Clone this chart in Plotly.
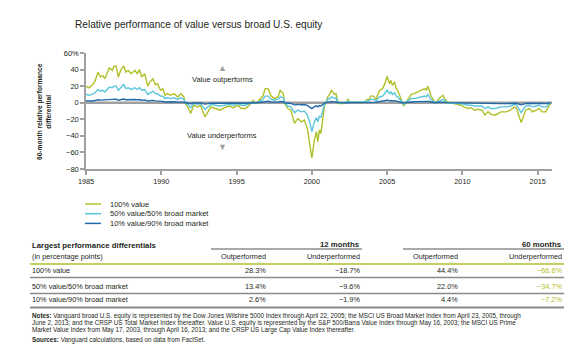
import plotly.graph_objects as go

# ---------------- data ----------------
years = [
    1985.0, 1985.2, 1985.4, 1985.6, 1985.8, 1985.95, 1986.1, 1986.25, 1986.55, 1986.75,
    1986.85, 1987.0, 1987.15, 1987.3, 1987.5, 1987.65, 1987.8, 1988.0, 1988.25, 1988.4,
    1988.55, 1988.7, 1988.9, 1989.1, 1989.25, 1989.45, 1989.6, 1989.75, 1989.95, 1990.1,
    1990.25, 1990.4, 1990.6, 1990.85, 1991.1, 1991.3, 1991.5, 1991.6, 1991.8, 1991.95,
    1992.15, 1992.4, 1992.6, 1992.9, 1993.1, 1993.3, 1993.6, 1993.9, 1994.2, 1994.5,
    1994.8, 1995.1, 1995.3, 1995.6, 1995.85, 1996.1, 1996.3, 1996.5, 1996.75, 1996.9,
    1997.1, 1997.3, 1997.5, 1997.75, 1997.9, 1998.1, 1998.2, 1998.4, 1998.6, 1998.85,
    1999.07, 1999.3, 1999.5, 1999.7, 1999.85, 2000.0, 2000.15, 2000.3, 2000.4, 2000.5,
    2000.6, 2000.75, 2000.85, 2000.95, 2001.06, 2001.2, 2001.3, 2001.5, 2001.6, 2001.7,
    2001.83, 2002.05, 2002.27, 2002.4, 2002.5, 2002.8, 2003.15, 2003.5, 2003.7, 2003.8,
    2003.9, 2004.1, 2004.25, 2004.5, 2004.7, 2004.85, 2005.0, 2005.15, 2005.25, 2005.35,
    2005.5, 2005.6, 2005.7, 2005.9, 2006.0, 2006.1, 2006.2, 2006.4, 2006.6, 2006.8,
    2007.0, 2007.25, 2007.5, 2007.6, 2007.7, 2007.8, 2007.9, 2008.1, 2008.25, 2008.45,
    2008.7, 2008.85, 2009.0, 2009.25, 2009.5, 2009.7, 2009.9, 2010.1, 2010.4, 2010.6,
    2010.8, 2011.0, 2011.3, 2011.5, 2011.7, 2011.9, 2012.2, 2012.55, 2012.9, 2013.2,
    2013.45, 2013.6, 2013.8, 2013.9, 2014.05, 2014.2, 2014.45, 2014.65, 2014.9, 2015.1,
    2015.3, 2015.55, 2015.7, 2015.85,
]

value_100 = [
    20, 18, 21, 26, 37, 31, 33, 29, 42, 39,
    44, 44, 31, 39, 44.4, 37, 39, 35, 39, 35,
    40, 31, 35, 20, 25, 29, 22, 23, 15, 17,
    9, 11, 9, 11, 7, 11, 7, -1, -7, -13,
    -3, -5, -3, -17, -11, -5, -7, -9, -6, -4,
    -6, -3, -7, -7, -3, 3, -1, 3, 8, 17,
    17, 8, 5, 7, 15, 11, -1, -7, -9, -25,
    -19, -23, -21, -31, -47, -66.6, -47, -35, -47, -33,
    -37, -15, -3, 1, 7, 11, 15, 10, 11, 3,
    -1, -1, 0, 4, 1, 1, 1, 1, 4, 3,
    8, 8, 4, 15, 17, 23, 32, 23, 27, 21,
    25, 17, 15, 5, -1, -4, -1, 5, 10, 11,
    13, 15, 17, 15, 20, 15, 9, 2, 0, 5,
    9, 4, 1, 0, -1, -2, -3, -5, -7, -6,
    -9, -8, -9, -15, -11, -14, -15, -11, -11, -9,
    -5, -7, -19, -24, -17, -9, -7, -11, -9, -7,
    -11, -11, -5, -1,
]

value_50 = [
    10, 9, 10, 12, 16, 14, 15, 13, 19, 18,
    20, 20, 15, 18, 22, 17, 18, 16, 18, 16,
    18, 15, 16, 10, 12, 14, 11, 11, 8, 8,
    5, 6, 5, 6, 4, 6, 4, 0, -3, -6,
    -1, -2, -1, -8, -5, -2, -3, -4, -3, -2,
    -3, -1, -3, -3, -1, 1, 0, 1, 4, 8,
    8, 4, 3, 4, 7, 6, 0, -4, -5, -12,
    -9, -11, -10, -15, -23, -34.7, -24, -18, -23, -16,
    -18, -7, -1, 1, 4, 5, 7, 5, 6, 2,
    0, 0, 0, 2, 1, 1, 1, 1, 2, 2,
    4, 4, 2, 7, 8, 11, 15, 11, 13, 10,
    12, 8, 7, 3, 0, -2, 0, 3, 5, 5,
    6, 7, 8, 7, 10, 7, 4, 1, 0, 2,
    4, 2, 0, 0, -1, -1, -1, -2, -3, -3,
    -4, -4, -4, -7, -5, -7, -7, -5, -5, -4,
    -2, -3, -9, -12, -8, -4, -3, -5, -4, -3,
    -5, -5, -2, 0,
]

value_10 = [
    2.0, 1.8, 2.1, 2.6, 3.6, 3.1, 3.3, 2.9, 4.1, 3.8,
    4.3, 4.3, 3.1, 3.8, 4.4, 3.6, 3.8, 3.4, 3.8, 3.4,
    3.9, 3.0, 3.4, 2.0, 2.4, 2.8, 2.2, 2.2, 1.5, 1.6,
    0.9, 1.1, 0.9, 1.1, 0.7, 1.1, 0.7, -0.1, -0.7, -1.3,
    -0.3, -0.5, -0.3, -1.7, -1.1, -0.5, -0.7, -0.9, -0.6, -0.4,
    -0.6, -0.3, -0.7, -0.7, -0.3, 0.3, -0.1, 0.3, 0.8, 1.7,
    1.7, 0.8, 0.5, 0.7, 1.5, 1.1, -0.1, -0.7, -0.9, -2.6,
    -2.0, -2.4, -2.2, -3.3, -5.0, -7.2, -5.1, -3.8, -5.0, -3.5,
    -3.9, -1.6, -0.3, 0.1, 0.7, 1.1, 1.5, 1.0, 1.1, 0.3,
    -0.1, -0.1, 0.0, 0.4, 0.1, 0.1, 0.1, 0.1, 0.4, 0.3,
    0.8, 0.8, 0.4, 1.5, 1.7, 2.3, 3.2, 2.3, 2.7, 2.1,
    2.5, 1.7, 1.5, 0.5, -0.1, -0.4, -0.1, 0.5, 1.0, 1.1,
    1.3, 1.5, 1.7, 1.5, 2.0, 1.5, 0.9, 0.2, 0.0, 0.5,
    0.9, 0.4, 0.1, 0.0, -0.1, -0.2, -0.3, -0.5, -0.7, -0.6,
    -0.9, -0.8, -0.9, -1.5, -1.1, -1.4, -1.5, -1.1, -1.1, -0.9,
    -0.5, -0.7, -1.9, -2.5, -1.7, -0.9, -0.7, -1.1, -0.9, -0.7,
    -1.1, -1.1, -0.5, -0.1,
]

series_names = ["100% value", "50% value/50% broad market", "10% value/90% broad market"]
x_ticks = [1985, 1990, 1995, 2000, 2005, 2010, 2015]
y_ticks = [60, 40, 20, 0, -20, -40, -60, -80]
y_tick_labels = ["60%", "40", "20", "0", "\u221220", "\u221240", "\u221260", "\u221280"]

table_rows = ["100% value", "50% value/50% broad market", "10% value/90% broad market"]
out_12 = ["28.3%", "13.4%", "2.6%"]
under_12 = ["\u221218.7%", "\u22129.6%", "\u22121.9%"]
out_60 = ["44.4%", "22.0%", "4.4%"]
under_60 = ["\u221266.6%", "\u221234.7%", "\u22127.2%"]

notes_lines = [
    "<b>Notes:</b> Vanguard broad U.S. equity is represented by the Dow Jones Wilshire 5000 Index through April 22, 2005; the MSCI US Broad Market Index from April 23, 2005, through",
    "June 2, 2013; and the CRSP US Total Market Index thereafter. Value U.S. equity is represented by the S&P 500/Barra Value Index through May 16, 2003; the MSCI US Prime",
    "Market Value Index from May 17, 2003, through April 16, 2013; and the CRSP US Large Cap Value Index thereafter.",
]
sources_line = "<b>Sources:</b> Vanguard calculations, based on data from FactSet."

# ---------------- style ----------------
GREEN = "#b2bf2a"
CYAN = "#5cc6dc"
BLUE = "#1f69a8"
GRAY = "#a0a0a0"
TXT = "#231f20"
FONT = "Liberation Sans, Arial, sans-serif"

W, H = 573, 356
L, R, T, B = 78, 544, 45, 161


def px(x):
    return (x - L) / (R - L)


def py(y):
    return (B - y) / (B - T)


fig = go.Figure()

for vals, col, name in [(value_100, GREEN, series_names[0]),
                        (value_50, CYAN, series_names[1]),
                        (value_10, BLUE, series_names[2])]:
    fig.add_trace(go.Scatter(x=years, y=vals, mode="lines", name=name,
                             line=dict(color=col, width=1.4), showlegend=False,
                             hoverinfo="skip"))

shapes = []
ann = []


def note(x, y, text, size=7.3, color=TXT, family=FONT, xanchor="left", **kw):
    d = dict(x=px(x), y=py(y), xref="paper", yref="paper", text=text, showarrow=False,
             xanchor=xanchor, yanchor="middle",
             font=dict(family=family, size=size, color=color))
    d.update(kw)
    ann.append(d)


def hline(x0, x1, y, color, width):
    shapes.append(dict(type="line", xref="paper", yref="paper", x0=px(x0), x1=px(x1),
                       y0=py(y), y1=py(y), line=dict(color=color, width=width)))


# zero line
shapes.append(dict(type="line", xref="paper", yref="y", x0=0, x1=1, y0=0, y1=0,
                   line=dict(color=GRAY, width=2.5), layer="below"))

# title
note(65, 17, "Relative performance of value versus broad U.S. equity", size=10.1)
# y-axis title
note(36, 104, "<b>60-month relative performance<br>differential</b>", size=6.6,
     xanchor="center", textangle=-90)

# outperform / underperform
note(214, 71, "Value outperforms", size=7.5, xanchor="center")
note(214, 127, "Value underperforms", size=7.5, xanchor="center")
note(214, 60, "\u25b2", size=9, color=GRAY, xanchor="center")
note(214, 138.5, "\u25bc", size=9, color=GRAY, xanchor="center")

# manual legend
for i, (name, col) in enumerate(zip(series_names, [GREEN, CYAN, BLUE])):
    yy = 196 + i * 9.7
    hline(77, 93, yy, col, 1.5)
    note(100, yy, name, size=7.5)

# table
note(22, 237, "<b>Largest performance differentials</b>", size=7.8)
note(22, 248.5, "(in percentage points)", size=7.3)
col_right = [260, 354, 452, 556]
for xr, t in zip(col_right, ["Outperformed", "Underperformed", "Outperformed", "Underperformed"]):
    note(xr, 248.5, t, size=7.3, xanchor="right")
for xr, t in [(354, "<b>12 months</b>"), (556, "<b>60 months</b>")]:
    note(xr, 236, t, size=7.8, xanchor="right")
hline(203, 354, 241, "#555", 1)
hline(395, 556, 241, "#555", 1)
hline(22, 556, 256, GREEN, 1.5)

row_y = [262.7, 278.3, 291.9]
sep_y = [269.5, 285.5]
for i, r in enumerate(table_rows):
    yy = row_y[i]
    note(22, yy, r)
    for xr, v, c in [(260, out_12[i], TXT), (354, under_12[i], TXT),
                     (452, out_60[i], TXT), (556, under_60[i], GREEN)]:
        note(xr, yy, v, color=c, xanchor="right")
for sy in sep_y:
    hline(22, 556, sy, "#8a8a8a", 1.3)
hline(22, 556, 299.5, "#8a8a8a", 2)

# notes
for i, line in enumerate(notes_lines):
    note(22, 308 + i * 6.8, line, size=6.3)
note(22, 331.5, sources_line, size=6.3)

fig.update_layout(
    width=W, height=H,
    margin=dict(l=L, r=W - R, t=T, b=H - B, pad=0),
    paper_bgcolor="white", plot_bgcolor="white",
    shapes=shapes, annotations=ann,
    xaxis=dict(range=[1985, 2015.95], tickvals=x_ticks, ticks="outside", ticklen=4,
               tickcolor=GRAY, tickwidth=1.5, showline=True, linecolor=GRAY, linewidth=1.5,
               showgrid=False, zeroline=False,
               tickfont=dict(family=FONT, size=7.3, color=TXT)),
    yaxis=dict(range=[-80, 60], tickvals=y_ticks, ticktext=y_tick_labels, ticks="outside",
               ticklen=4, tickcolor=GRAY, tickwidth=1.5, showline=True, linecolor=GRAY,
               linewidth=1.5, showgrid=False, zeroline=False,
               tickfont=dict(family=FONT, size=7.5, color=TXT)),
)

fig.write_html("out.html")
